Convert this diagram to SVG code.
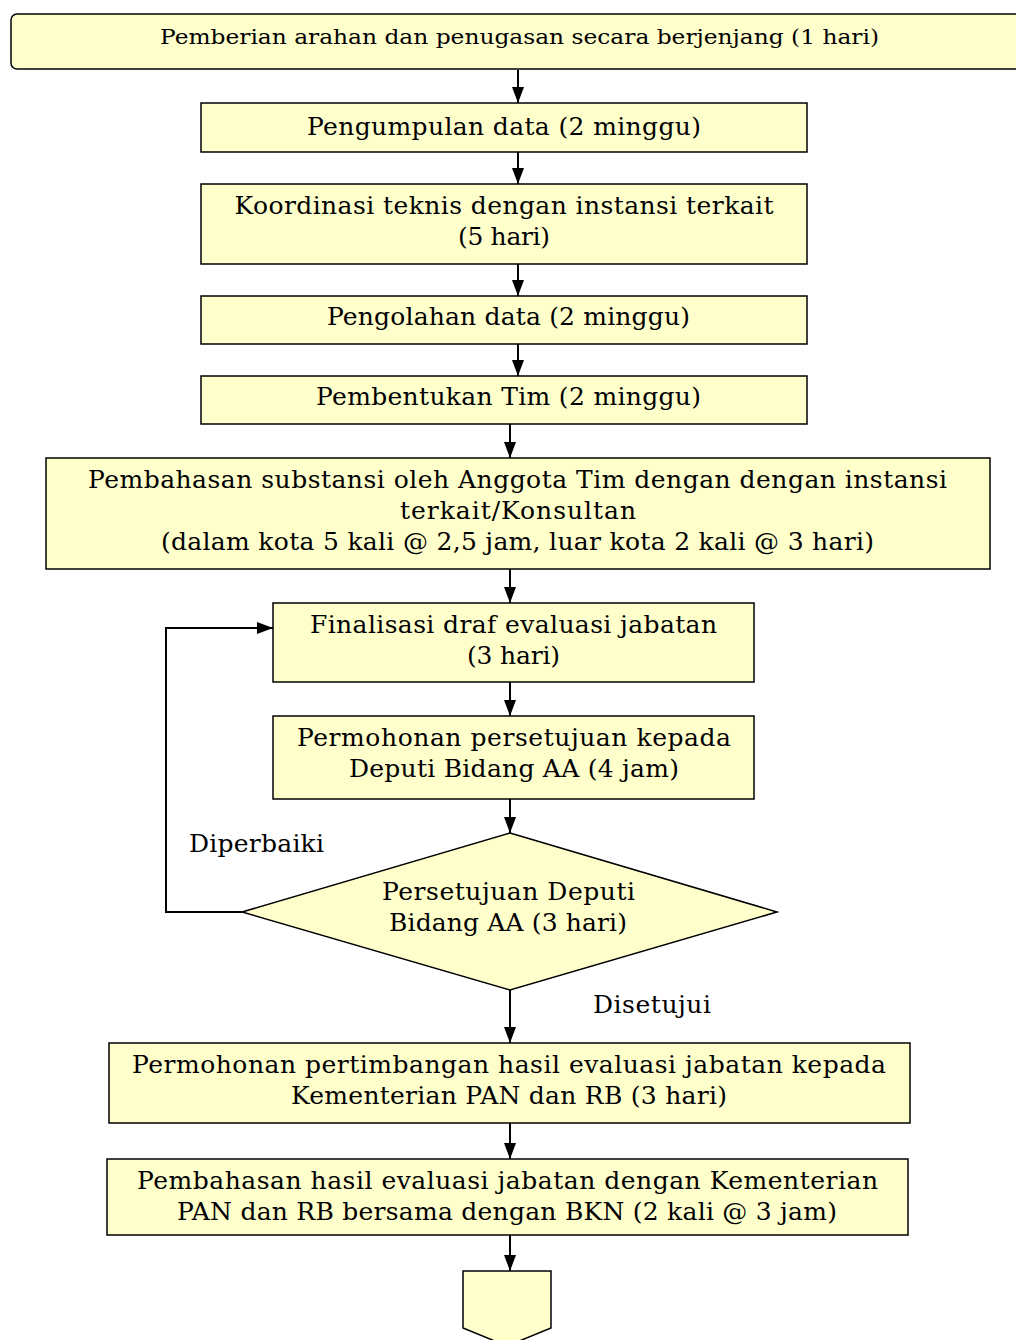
<svg xmlns="http://www.w3.org/2000/svg" width="1016" height="1340" viewBox="0 0 1016 1340">
<defs>
<marker id="ah" markerWidth="16" markerHeight="12" refX="16" refY="6" orient="auto" markerUnits="userSpaceOnUse" viewBox="0 0 16 12">
<path d="M0,0 L16,6 L0,12 z" fill="#000"/>
</marker>
<style>
.box{fill:#FFFFCC;stroke:#000;stroke-width:1.5}
.t{font-family:"DejaVu Serif","Liberation Serif",serif;font-size:25px;fill:#000;text-anchor:middle;dominant-baseline:central}
.ts{font-family:"DejaVu Serif","Liberation Serif",serif;font-size:21px;fill:#000;text-anchor:middle;dominant-baseline:central}
.c{fill:none;stroke:#000;stroke-width:2}
</style>
</defs>
<rect width="1016" height="1340" fill="#fff"/>
<g id="n1"><rect class="box" x="11" y="14" width="1020" height="55" rx="6"/><text class="ts" x="519.5" y="37" textLength="719" lengthAdjust="spacingAndGlyphs">Pemberian arahan dan penugasan secara berjenjang  (1 hari)</text></g>
<g id="n2"><rect class="box" x="201" y="103" width="606" height="49"/><text class="t" x="504" y="126" textLength="394">Pengumpulan data (2 minggu)</text></g>
<g id="n3"><rect class="box" x="201" y="184" width="606" height="80"/><text class="t" x="504" y="205" textLength="539">Koordinasi teknis dengan instansi terkait</text><text class="t" x="504" y="236" textLength="92">(5 hari)</text></g>
<g id="n4"><rect class="box" x="201" y="296" width="606" height="48"/><text class="t" x="508.5" y="316" textLength="363">Pengolahan data (2 minggu)</text></g>
<g id="n5"><rect class="box" x="201" y="376" width="606" height="48"/><text class="t" x="508.5" y="396" textLength="385">Pembentukan Tim (2 minggu)</text></g>
<g id="n6"><rect class="box" x="46" y="458" width="944" height="111"/><text class="t" x="517.5" y="479" textLength="859">Pembahasan substansi oleh Anggota Tim dengan dengan instansi</text><text class="t" x="518" y="510" textLength="236">terkait/Konsultan</text><text class="t" x="517.5" y="541" textLength="713">(dalam kota 5 kali @ 2,5 jam, luar kota 2 kali @ 3 hari)</text></g>
<g id="n7"><rect class="box" x="273" y="603" width="481" height="79"/><text class="t" x="513.5" y="624" textLength="407">Finalisasi draf evaluasi jabatan</text><text class="t" x="513.5" y="655" textLength="93">(3 hari)</text></g>
<g id="n8"><rect class="box" x="273" y="716" width="481" height="83"/><text class="t" x="514" y="737" textLength="434">Permohonan persetujuan kepada</text><text class="t" x="514" y="768" textLength="330">Deputi Bidang AA (4 jam)</text></g>
<g id="n9"><polygon class="box" points="510,833 777,912 510,990 242,912"/><text class="t" x="508.5" y="891" textLength="253">Persetujuan Deputi</text><text class="t" x="508" y="922" textLength="238">Bidang AA (3 hari)</text></g>
<g id="n10"><rect class="box" x="109" y="1043" width="801" height="80"/><text class="t" x="509" y="1064" textLength="754">Permohonan pertimbangan hasil evaluasi jabatan kepada</text><text class="t" x="509" y="1095" textLength="436">Kementerian PAN dan RB (3 hari)</text></g>
<g id="n11"><rect class="box" x="107" y="1159" width="801" height="76"/><text class="t" x="507.5" y="1180" textLength="741">Pembahasan hasil evaluasi jabatan dengan Kementerian</text><text class="t" x="507" y="1211" textLength="660">PAN dan RB bersama dengan BKN (2 kali @ 3 jam)</text></g>
<g id="n12"><polygon class="box" points="463,1271 551,1271 551,1328 507,1346 463,1328"/></g>
<g id="labels">
<text class="t" x="256.5" y="843" textLength="135">Diperbaiki</text>
<text class="t" x="652" y="1004" textLength="118">Disetujui</text>
</g>
<g id="connectors">
<line class="c" x1="518" y1="70" x2="518" y2="103" marker-end="url(#ah)"/>
<line class="c" x1="518" y1="152" x2="518" y2="184" marker-end="url(#ah)"/>
<line class="c" x1="518" y1="264" x2="518" y2="296" marker-end="url(#ah)"/>
<line class="c" x1="518" y1="344" x2="518" y2="376" marker-end="url(#ah)"/>
<line class="c" x1="510" y1="424" x2="510" y2="458" marker-end="url(#ah)"/>
<line class="c" x1="510" y1="569" x2="510" y2="603" marker-end="url(#ah)"/>
<line class="c" x1="510" y1="682" x2="510" y2="716" marker-end="url(#ah)"/>
<line class="c" x1="510" y1="799" x2="510" y2="833" marker-end="url(#ah)"/>
<polyline class="c" points="242,912 166,912 166,628 273,628" marker-end="url(#ah)"/>
<line class="c" x1="510" y1="990" x2="510" y2="1043" marker-end="url(#ah)"/>
<line class="c" x1="510" y1="1123" x2="510" y2="1159" marker-end="url(#ah)"/>
<line class="c" x1="510" y1="1235" x2="510" y2="1271" marker-end="url(#ah)"/>
</g>
</svg>
